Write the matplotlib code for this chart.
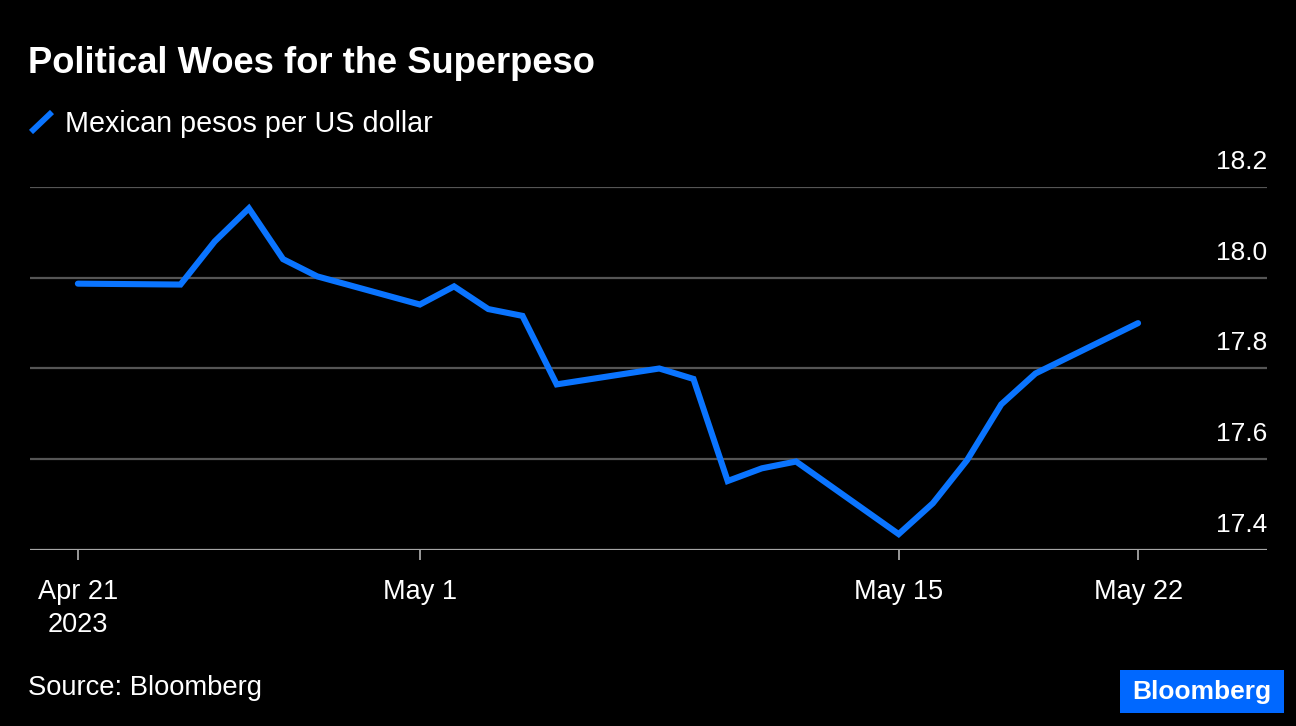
import matplotlib
matplotlib.use("Agg")
import matplotlib.pyplot as plt
import matplotlib.dates as mdates
import matplotlib.transforms as mtransforms
from matplotlib.lines import Line2D
from matplotlib.patches import Rectangle

# Mexican pesos per US dollar, daily closes
DATES = ["2023-04-21", "2023-04-24", "2023-04-25", "2023-04-26", "2023-04-27",
         "2023-04-28", "2023-05-01", "2023-05-02", "2023-05-03", "2023-05-04",
         "2023-05-05", "2023-05-08", "2023-05-09", "2023-05-10", "2023-05-11",
         "2023-05-12", "2023-05-15", "2023-05-16", "2023-05-17", "2023-05-18",
         "2023-05-19", "2023-05-22"]
MXN = [17.987, 17.985, 18.080, 18.153, 18.041, 18.003, 17.941, 17.981, 17.931,
       17.916, 17.765, 17.800, 17.777, 17.552, 17.580, 17.595, 17.435, 17.503,
       17.598, 17.721, 17.789, 17.900]
YTICKS = [17.4, 17.6, 17.8, 18.0, 18.2]
XTICKS = ["2023-04-21", "2023-05-01", "2023-05-15", "2023-05-22"]
XLABELS = ["Apr 21\n2023", "May 1", "May 15", "May 22"]

BG = "#000000"
BLUE = "#0a74ff"
LOGO = "#0068ff"
GRID = "#555555"
BASE = "#a6a6a6"
WHITE = "#ffffff"

plt.rcParams.update({
    "font.family": ["Liberation Sans", "DejaVu Sans"],
    "text.color": WHITE, "figure.facecolor": BG, "savefig.facecolor": BG,
})

W, H = 1296, 726
fig = plt.figure(figsize=(W / 100, H / 100), dpi=100)
ax = fig.add_axes([30 / W, 176 / H, 1237 / W, 363 / H])
ax.set_facecolor(BG)

x = mdates.datestr2num(DATES)
x0 = mdates.datestr2num("2023-04-21")
ax.plot(x, MXN, color=BLUE, linewidth=4.4, solid_capstyle="round",
        solid_joinstyle="miter", zorder=3)

ax.set_xlim(x0 - 1.40, x0 + 34.77)
ax.set_ylim(17.4, 18.2)

for v in YTICKS[1:]:
    ax.axhline(v, color=GRID, linewidth=1.6, zorder=1)
ax.axhline(YTICKS[0], color=BASE, linewidth=1.6, zorder=2)

# value labels sit above their gridline, right-aligned to the plot edge
ytr = ax.get_yaxis_transform() + mtransforms.ScaledTranslation(0, 18 / 100, fig.dpi_scale_trans)
for v in YTICKS:
    ax.text(1.0, v, f"{v:.1f}", transform=ytr, ha="right", va="baseline",
            fontsize=19, color=WHITE)

for s in ax.spines.values():
    s.set_visible(False)
ax.set_yticks([])
ax.set_xticks(mdates.datestr2num(XTICKS))
ax.set_xticklabels(XLABELS, fontsize=19.5, color=WHITE, linespacing=1.32)
ax.tick_params(axis="x", length=7, width=1.3, color=BASE, pad=14)

fig.text(28 / W, 1 - 73 / H, "Political Woes for the Superpeso", fontsize=26.2,
         fontweight="bold", ha="left", va="baseline", color=WHITE)
fig.add_artist(Line2D([31 / W, 52 / W], [1 - 132 / H, 1 - 112 / H],
                      color=BLUE, linewidth=4.2, solid_capstyle="butt"))
fig.text(65 / W, 1 - 132 / H, "Mexican pesos per US dollar", fontsize=20.7,
         ha="left", va="baseline", color=WHITE)
fig.text(28 / W, 1 - 695 / H, "Source: Bloomberg", fontsize=19.7,
         ha="left", va="baseline", color=WHITE)

fig.add_artist(Rectangle((1120 / W, 1 - 713 / H), 164 / W, 43 / H,
                         transform=fig.transFigure, facecolor=LOGO,
                         edgecolor="none"))
fig.text(1202 / W, 1 - 699 / H, "Bloomberg", fontsize=19, fontweight="bold",
         ha="center", va="baseline", color=WHITE)

fig.savefig("out.png", dpi=100)
